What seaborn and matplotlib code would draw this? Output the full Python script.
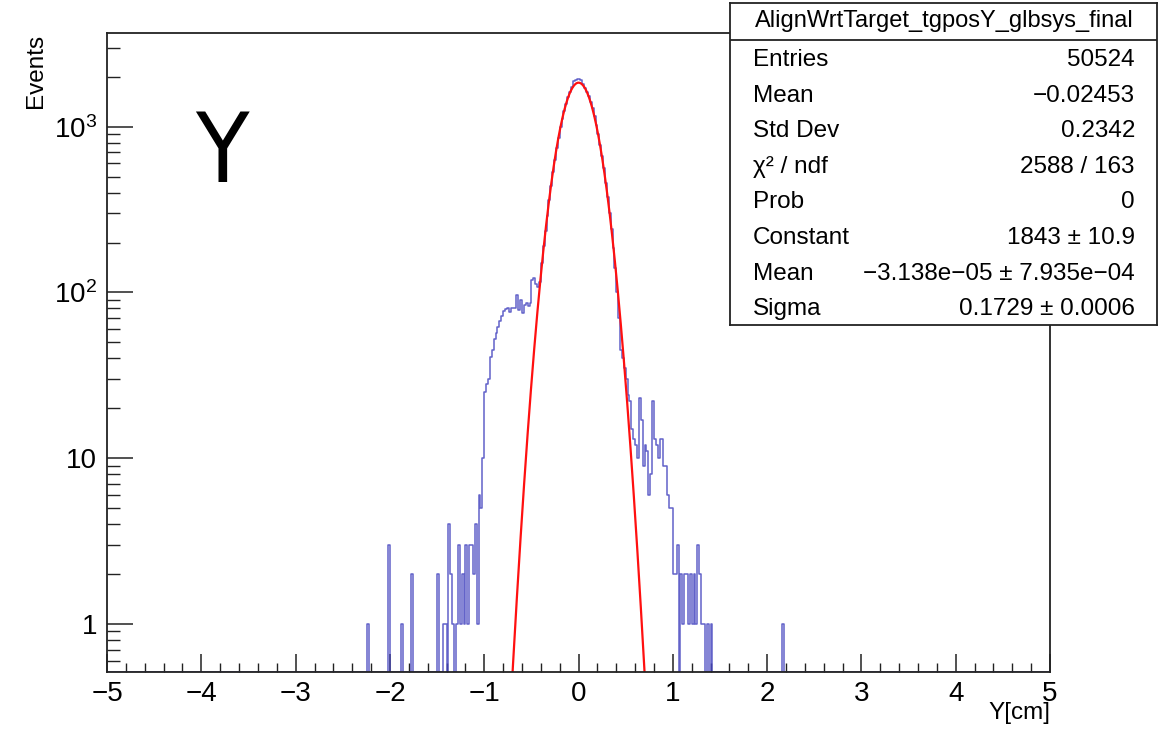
import numpy as np
import matplotlib
matplotlib.use('Agg')
import matplotlib.pyplot as plt
import seaborn as sns
from matplotlib.ticker import MultipleLocator, LogLocator, NullFormatter

# binning of the histogram: 500 bins between -5 and 5 cm
x_min, x_max, n_bins = -5.0, 5.0, 500
y_lo, y_hi = 0.51, 3650

# bin contents, first bin starts at -2.30
first_edge = -2.30
far_left = [0, 0, 0, 1, 0, 0, 0, 0, 0, 0, 0, 0, 0, 0, 3, 0, 0, 0, 0, 0,
            0, 1, 0, 0, 0, 0, 2, 0, 0, 0, 0, 0, 0, 0, 0, 0, 0, 0, 0, 0,
            2, 0, 0, 1, 1, 0, 4, 2, 1, 0, 1, 3, 1, 2, 1, 3, 1, 3, 3, 2,
            4, 1, 6]
left_shoulder = [5, 10, 25, 28, 30, 41, 45, 52, 57, 62, 67, 72, 77, 79, 80, 76,
                 80, 81, 81, 97, 78, 90, 75, 84, 86, 83, 86, 118, 122, 112, 108, 115]
core = [150, 190, 235, 290, 360, 440, 530, 630, 745, 860, 990, 1120, 1250, 1370,
        1500, 1620, 1740, 1880, 1920, 1950, 1930, 1900, 1800, 1710, 1630, 1530,
        1410, 1290, 1160, 1030, 900, 780, 665, 560, 460, 375, 300, 240, 185, 140,
        100, 70, 45, 40, 35, 30, 24]
right_shoulder = [22, 15, 13, 12, 10, 23, 17, 9, 12, 11, 6, 8, 22, 13, 12, 10,
                  13, 13, 9, 9, 6, 5, 5, 2, 2, 3, 0, 2, 1, 2, 2, 1, 2, 1, 2, 1,
                  3, 2, 1, 1, 0, 1, 0, 1, 0]
far_right = [0, 0, 0, 0, 0, 0, 0, 0, 0, 0, 0, 0, 0, 0, 0, 0, 0, 0, 0, 0,
             0, 0, 0, 0, 0, 0, 0, 0, 0, 0, 0, 0, 0, 0, 0, 0, 1, 0]

# gaussian fit result from the stats box
fit_const, fit_mean, fit_sigma = 1843.0, -3.138e-05, 0.1729

hist_name = 'AlignWrtTarget_tgposY_glbsys_final'
stats_labels = ['Entries', 'Mean', 'Std Dev', 'χ² / ndf', 'Prob', 'Constant', 'Mean', 'Sigma']
stats_values = ['50524', '\u22120.02453', '0.2342', '2588 / 163', '0', '1843 \u00b1 10.9',
                '\u22123.138e\u221205 \u00b1 7.935e\u221204', '0.1729 \u00b1 0.0006']

# fill the full histogram
edges = np.linspace(x_min, x_max, n_bins + 1)
bw = (x_max - x_min) / n_bins
counts = np.zeros(n_bins)
read = np.array(far_left + left_shoulder + core + right_shoulder + far_right, dtype=float)
start = int(round((first_edge - x_min) / bw))
counts[start:start + len(read)] = read
# empty bins sit on the bottom of the frame like in ROOT
plot_counts = np.where(counts > 0, counts, y_lo)
step_y = np.append(plot_counts, plot_counts[-1])

xf = np.linspace(-1, 1, 801)
yf = fit_const * np.exp(-0.5 * ((xf - fit_mean) / fit_sigma) ** 2)

sns.set_theme(style='ticks')
plt.rcParams['font.family'] = ['Liberation Sans', 'DejaVu Sans']
plt.rcParams['mathtext.fontset'] = 'custom'
plt.rcParams['mathtext.rm'] = 'Liberation Sans'
plt.rcParams['text.color'] = 'black'
plt.rcParams['axes.labelcolor'] = 'black'

fig = plt.figure(figsize=(11.7, 7.36), dpi=100)
ax = fig.add_axes([0.0915, 0.0865, 0.806, 0.868])

sns.lineplot(x=edges, y=step_y, drawstyle='steps-post', color='#4646c0', lw=1.1,
             alpha=0.85, estimator=None, ax=ax)
sns.lineplot(x=xf, y=yf, color='#ff1010', lw=1.6, estimator=None, ax=ax)

ax.set_yscale('log')
ax.set_xlim(x_min, x_max)
ax.set_ylim(y_lo, y_hi)

ax.xaxis.set_major_locator(MultipleLocator(1))
ax.xaxis.set_minor_locator(MultipleLocator(0.2))
ax.set_yticks([1, 10, 100, 1000])
ax.set_yticklabels(['1', '10', r'$\mathregular{10^{2}}$', r'$\mathregular{10^{3}}$'])
ax.yaxis.set_minor_locator(LogLocator(base=10, subs=np.arange(2, 10)))
ax.yaxis.set_minor_formatter(NullFormatter())

ax.tick_params(axis='both', which='both', direction='in', colors='#222222',
               labelcolor='black', labelsize=20, top=False, right=False)
ax.tick_params(axis='x', which='major', length=13, width=1.1, pad=6)
ax.tick_params(axis='x', which='minor', length=6.5, width=1.0)
ax.tick_params(axis='y', which='major', length=19, width=1.1, pad=7)
ax.tick_params(axis='y', which='minor', length=9.5, width=1.0)
for s in ax.spines.values():
    s.set_color('#222222')
    s.set_linewidth(1.3)

ax.set_xlabel('Y[cm]', loc='right', fontsize=17.5)
ax.xaxis.set_label_coords(1.0, -0.046)
ax.set_ylabel('Events', loc='top', fontsize=17.5)
ax.yaxis.set_label_coords(-0.064, 1.0)

fig.text(0.19, 0.7527, 'Y', fontsize=70, ha='center', va='baseline',
         family='DejaVu Sans', fontstretch='condensed', color='black')

# stats box
sb = fig.add_axes([0.624, 0.558, 0.365, 0.438])
sb.set_xlim(0, 1)
sb.set_ylim(0, 1)
sb.set_xticks([])
sb.set_yticks([])
sb.set_facecolor('white')
for s in sb.spines.values():
    s.set_color('#222222')
    s.set_linewidth(1.3)
sb.axhline(0.885, color='#222222', lw=1.3)
sb.text(0.501, 0.944, hist_name, ha='center', va='center', fontsize=17)
row_y = [0.823, 0.711, 0.602, 0.491, 0.382, 0.270, 0.158, 0.050]
for yy, lab, val in zip(row_y, stats_labels, stats_values):
    sb.text(0.054, yy, lab, ha='left', va='center', fontsize=17.5)
    sb.text(0.948, yy, val, ha='right', va='center', fontsize=17.5)

fig.savefig('out.png', dpi=100)
